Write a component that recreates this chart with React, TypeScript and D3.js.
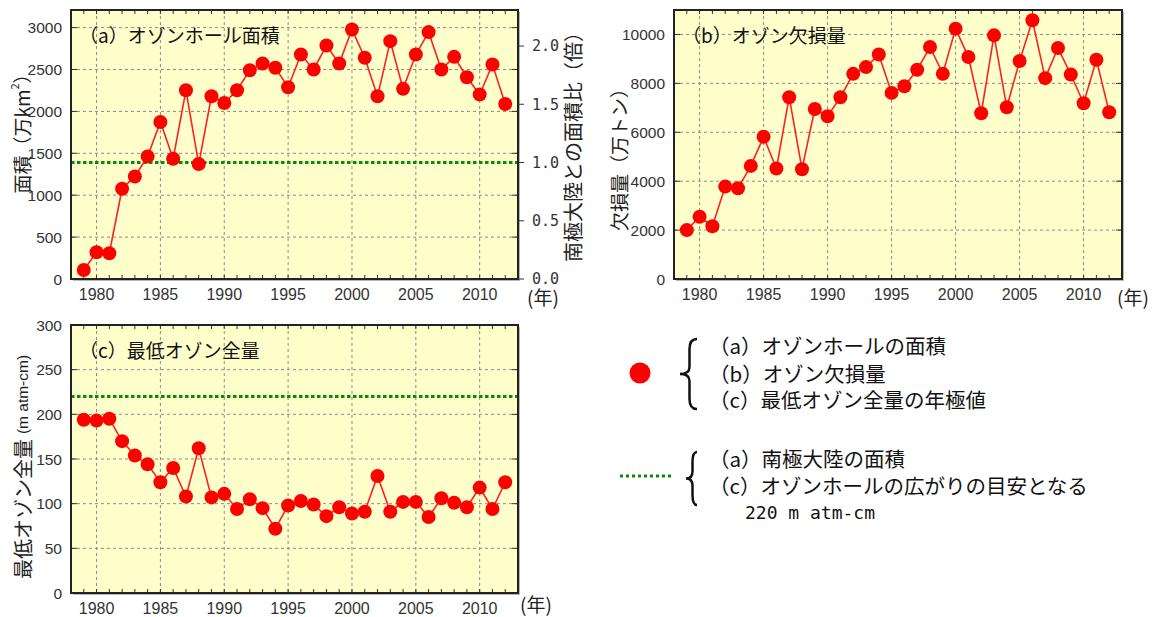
import React from "react";
import * as d3 from "d3";

const years = [1979, 1980, 1981, 1982, 1983, 1984, 1985, 1986, 1987, 1988, 1989, 1990, 1991, 1992, 1993, 1994, 1995, 1996, 1997, 1998, 1999, 2000, 2001, 2002, 2003, 2004, 2005, 2006, 2007, 2008, 2009, 2010, 2011, 2012];

// (a) ozone hole area (10^4 km^2)
const areaValues = [108, 319, 307, 1077, 1224, 1463, 1874, 1435, 2252, 1372, 2180, 2101, 2252, 2491, 2571, 2520, 2288, 2679, 2500, 2787, 2571, 2978, 2640, 2180, 2838, 2269, 2679, 2946, 2500, 2651, 2408, 2201, 2559, 2089];
// (b) ozone mass deficit (10^4 t)
const deficitValues = [2000, 2546, 2160, 3778, 3708, 4624, 5815, 4517, 7433, 4489, 6953, 6653, 7433, 8390, 8665, 9183, 7610, 7885, 8554, 9487, 8390, 10238, 9076, 6776, 9963, 7022, 8912, 10579, 8214, 9446, 8361, 7187, 8965, 6817];
// (c) minimum total ozone (m atm-cm)
const minOzoneValues = [194, 193, 195, 170, 154, 144, 124, 140, 108, 162, 107, 111, 94, 105, 95, 72, 98, 103, 99, 86, 96, 89, 91, 131, 91, 102, 102, 85, 106, 101, 96, 118, 94, 124];

const xTickYears = [1980, 1985, 1990, 1995, 2000, 2005, 2010];
const areaTicks = [0, 500, 1000, 1500, 2000, 2500, 3000];
const ratioTicks = [0, 0.5, 1.0, 1.5, 2.0];
const deficitTicks = [0, 2000, 4000, 6000, 8000, 10000];
const ozoneTicks = [0, 50, 100, 150, 200, 250, 300];
const ANTARCTIC_AREA = 1390;
const OZONE_HOLE_THRESHOLD = 220;

const FONT_NUM = "'Liberation Sans', Arial, sans-serif";
const FONT_JP = "'Noto Sans CJK JP', 'Noto Sans', sans-serif";
const FONT_MONO = "'DejaVu Sans Mono', 'Liberation Mono', monospace";

type PanelProps = {
  left: number; top: number; right: number; bottom: number;
  yMax: number; yTicks: number[]; values: number[];
  title: string; refValue?: number;
};

function Panel({ left, top, right, bottom, yMax, yTicks, values, title, refValue }: PanelProps) {
  const x = d3.scaleLinear().domain([1978, 2013]).range([left, right]);
  const y = d3.scaleLinear().domain([0, yMax]).range([bottom, top]);
  const line = d3.line<number>().x((_, i) => x(years[i])).y((d) => y(d));
  const minorYears = d3.range(1978, 2014);
  return (
    <g>
      <rect x={left + 2} y={top + 2} width={right - left} height={bottom - top} fill="#b8b8b8" />
      <rect x={left} y={top} width={right - left} height={bottom - top} fill="#FFFFCC" />
      {xTickYears.map((yr) => (
        <line key={"gx" + yr} x1={x(yr)} x2={x(yr)} y1={top} y2={bottom} stroke="#8a8a8a" strokeWidth={1} strokeDasharray="3,3" />
      ))}
      {yTicks.filter((t) => t > 0 && y(t) > top + 1).map((t) => (
        <line key={"gy" + t} x1={left} x2={right} y1={y(t)} y2={y(t)} stroke="#8a8a8a" strokeWidth={1} strokeDasharray="3,3" />
      ))}
      {minorYears.map((yr) => (
        <g key={"mt" + yr}>
          <line x1={x(yr)} x2={x(yr)} y1={top} y2={top + 4} stroke="#333" strokeWidth={1} />
          <line x1={x(yr)} x2={x(yr)} y1={bottom} y2={bottom - 4} stroke="#333" strokeWidth={1} />
        </g>
      ))}
      {yTicks.map((t) => (
        <g key={"yt" + t}>
          <line x1={left} x2={left + 6} y1={y(t)} y2={y(t)} stroke="#333" strokeWidth={1} />
          <line x1={right} x2={right - 6} y1={y(t)} y2={y(t)} stroke="#333" strokeWidth={1} />
        </g>
      ))}
      {refValue !== undefined && (
        <line x1={left} x2={right} y1={y(refValue)} y2={y(refValue)} stroke="#0a8a0a" strokeWidth={3} strokeDasharray="3.5,2.5" />
      )}
      <path d={line(values) || ""} fill="none" stroke="#ff2020" strokeWidth={1.6} />
      {values.map((v, i) => (
        <circle key={"pt" + i} cx={x(years[i])} cy={y(v)} r={7} fill="#ff0000" />
      ))}
      <rect x={left} y={top} width={right - left} height={bottom - top} fill="none" stroke="#222" strokeWidth={2} />
      {yTicks.map((t) => (
        <text key={"yl" + t} x={left - 9} y={y(t)} dy="0.36em" textAnchor="end" fontFamily={FONT_NUM} fontSize={15.5} fill="#333">
          {t}
        </text>
      ))}
      {xTickYears.map((yr) => (
        <text key={"xl" + yr} x={x(yr)} y={bottom + 21} textAnchor="middle" fontFamily={FONT_NUM} fontSize={16} fill="#333">
          {yr}
        </text>
      ))}
      <text x={left + 8} y={top + 33} fontFamily={FONT_JP} fontSize={19} fill="#111">
        {title}
      </text>
    </g>
  );
}

function Brace({ x, y1, y2, tipX }: { x: number; y1: number; y2: number; tipX: number }) {
  const mid = (y1 + y2) / 2;
  const bx = (x + tipX) / 2 + 1;
  const d = `M ${x} ${y1} Q ${bx} ${y1} ${bx} ${y1 + 10} L ${bx} ${mid - 7} Q ${bx} ${mid} ${tipX} ${mid} Q ${bx} ${mid} ${bx} ${mid + 7} L ${bx} ${y2 - 10} Q ${bx} ${y2} ${x} ${y2}`;
  return <path d={d} fill="none" stroke="#111" strokeWidth={2.5} />;
}

export default function App() {
  const aLeft = 71, aTop = 10, aRight = 518, aBottom = 279, aMax = 3210;
  const yRatio = d3.scaleLinear().domain([0, aMax / ANTARCTIC_AREA]).range([aBottom, aTop]);
  return (
    <div style={{ position: "absolute", left: 0, top: 0 }}>
      <svg width={1158} height={617} style={{ display: "block", background: "#fff" }}>
        {/* Panel (a) */}
        <Panel left={aLeft} top={aTop} right={aRight} bottom={aBottom} yMax={aMax} yTicks={areaTicks} values={areaValues} title="（a）オゾンホール面積" refValue={ANTARCTIC_AREA} />
        {ratioTicks.map((t) => (
          <g key={"rt" + t}>
            <line x1={aRight} x2={aRight + 6} y1={yRatio(t)} y2={yRatio(t)} stroke="#333" strokeWidth={1} />
            <text x={aRight + 14} y={yRatio(t)} dy="0.36em" fontFamily={FONT_MONO} fontSize={15} fill="#333">
              {t.toFixed(1)}
            </text>
          </g>
        ))}
        <text transform="translate(21,129) rotate(-90)" textAnchor="middle" dominantBaseline="central" fontFamily={FONT_JP} fontSize={19} fill="#222">
          面積（万km<tspan fontSize={11} dy={-7}>2</tspan><tspan dy={7}>）</tspan>
        </text>
        <text transform="translate(572,142) rotate(-90)" textAnchor="middle" dominantBaseline="central" fontFamily={FONT_JP} fontSize={20} fill="#222">
          南極大陸との面積比（倍）
        </text>
        <text x={527} y={305} fontFamily={FONT_JP} fontSize={19} fill="#222">(年)</text>

        {/* Panel (b) */}
        <Panel left={674} top={10} right={1122} bottom={279} yMax={11000} yTicks={deficitTicks} values={deficitValues} title="（b）オゾン欠損量" />
        <text transform="translate(618,155) rotate(-90)" textAnchor="middle" dominantBaseline="central" fontFamily={FONT_JP} fontSize={19} fill="#222">
          欠損量（万トン）
        </text>
        <text x={1117} y={305} fontFamily={FONT_JP} fontSize={19} fill="#222">(年)</text>

        {/* Panel (c) */}
        <Panel left={71} top={325} right={518} bottom={593} yMax={300} yTicks={ozoneTicks} values={minOzoneValues} title="（c）最低オゾン全量" refValue={OZONE_HOLE_THRESHOLD} />
        <text transform="translate(22,467) rotate(-90)" textAnchor="middle" dominantBaseline="central" fontFamily={FONT_JP} fontSize={20} fill="#222">
          最低オゾン全量<tspan fontSize={15.5} fontFamily={FONT_NUM} dx={5}>(m atm-cm)</tspan>
        </text>
        <text x={520} y={612} fontFamily={FONT_JP} fontSize={19} fill="#222">(年)</text>

        {/* Legend */}
        <circle cx={640} cy={373} r={10.5} fill="#ff0000" />
        <Brace x={697} y1={339} y2={409} tipX={680} />
        <text x={709} y={354} fontFamily={FONT_JP} fontSize={20.5} fill="#111">（a）オゾンホールの面積</text>
        <text x={709} y={382} fontFamily={FONT_JP} fontSize={20.5} fill="#111">（b）オゾン欠損量</text>
        <text x={709} y={408} fontFamily={FONT_JP} fontSize={20.5} fill="#111">（c）最低オゾン全量の年極値</text>

        <line x1={620} x2={672} y1={476} y2={476} stroke="#0a8a0a" strokeWidth={3} strokeDasharray="3,3" />
        <Brace x={697} y1={452} y2={505} tipX={686} />
        <text x={709} y={467} fontFamily={FONT_JP} fontSize={20.5} fill="#111">（a）南極大陸の面積</text>
        <text x={709} y={494} fontFamily={FONT_JP} fontSize={20.5} fill="#111">（c）オゾンホールの広がりの目安となる</text>
        <text x={745} y={519} fontFamily={FONT_MONO} fontSize={18} fill="#111">220 m atm-cm</text>
      </svg>
    </div>
  );
}
